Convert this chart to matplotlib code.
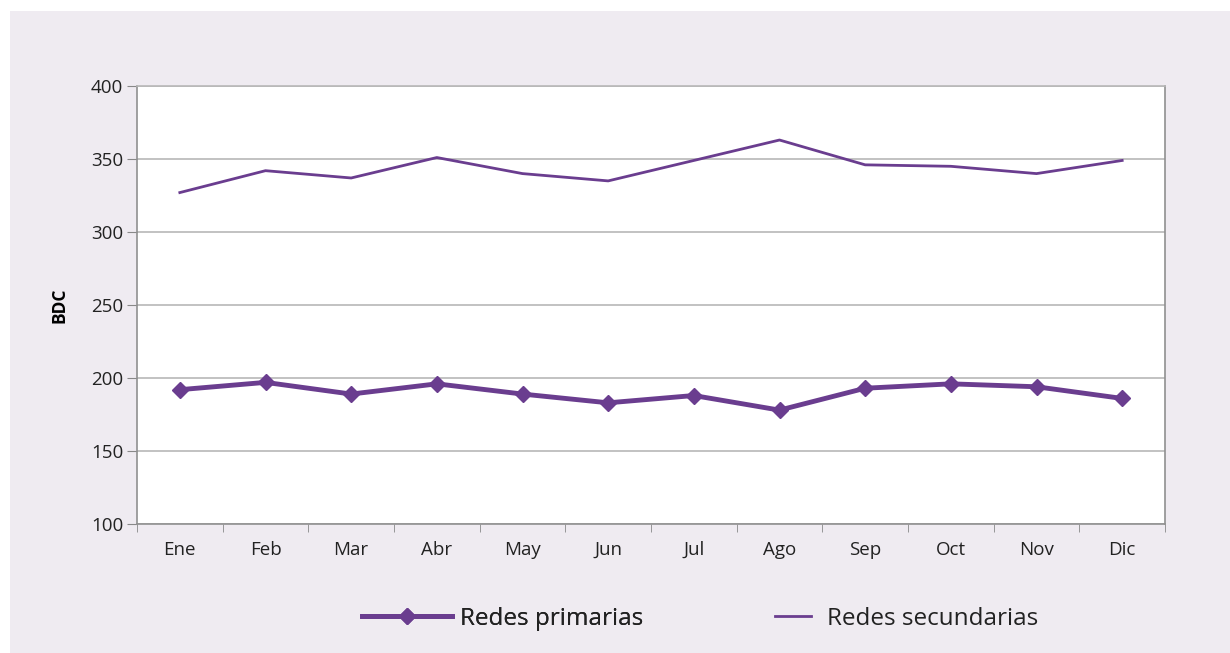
#!/usr/bin/env python3

import matplotlib
matplotlib.use("Agg")
import matplotlib.pyplot as plt
from matplotlib.patches import Rectangle


months = ["Ene", "Feb", "Mar", "Abr", "May", "Jun", "Jul", "Ago", "Sep", "Oct", "Nov", "Dic"]
redes_primarias = [192, 197, 189, 196, 189, 183, 188, 178, 193, 196, 194, 186]
redes_secundarias = [327, 342, 337, 351, 340, 335, 349, 363, 346, 345, 340, 349]
y_ticks = [100, 150, 200, 250, 300, 350, 400]


def main():
    plt.rcParams['font.family'] = ['Open Sans', 'DejaVu Sans']
    purple = '#6a3d8f'
    grid_col = '#b8b8b8'

    fig = plt.figure(figsize=(12.3, 6.53), dpi=100)
    fig.patch.set_facecolor('white')
    # light panel behind everything, white strip at top and left
    fig.patches.append(Rectangle((10 / 1230, 0), 1, 1 - 11 / 653,
                                 transform=fig.transFigure, facecolor='#efebf1',
                                 edgecolor='none', zorder=-10))

    ax = fig.add_axes([137 / 1230, 1 - 524 / 653, (1165 - 137) / 1230, (524 - 86) / 653])
    ax.set_facecolor('white')

    x = list(range(len(months)))
    l1, = ax.plot(x, redes_primarias, color=purple, lw=3.5, marker='D', ms=8.5,
                  label='Redes primarias', zorder=3)
    l2, = ax.plot(x, redes_secundarias, color=purple, lw=2,
                  label='Redes secundarias', zorder=3)

    ax.set_xlim(-0.5, len(months) - 0.5)
    ax.set_ylim(100, 400)
    ax.set_yticks(y_ticks)
    ax.yaxis.grid(True, color=grid_col, lw=1.2)
    ax.set_axisbelow(True)

    ax.set_xticks(x)
    ax.set_xticklabels(months, fontsize=13.5, color='#222222')
    ax.set_xticks([i - 0.5 for i in range(len(months) + 1)], minor=True)
    ax.tick_params(axis='x', which='major', length=0, pad=12)
    ax.tick_params(axis='x', which='minor', length=6, color='#888888', direction='out')
    ax.tick_params(axis='y', length=7, color='#888888', labelsize=13.5,
                   labelcolor='#222222', pad=3)

    for side in ['top', 'right', 'left', 'bottom']:
        ax.spines[side].set_color('#909090')
        ax.spines[side].set_linewidth(1.2)
    ax.spines['top'].set_color(grid_col)

    ax.set_ylabel('BDC', fontsize=12.5, fontweight='bold', labelpad=16)

    # two separate legends so the handles can have different lengths
    leg1 = fig.legend(handles=[l1], loc='center left',
                      bbox_to_anchor=(340 / 1230, 1 - 619 / 653), frameon=False,
                      fontsize=17.5, handlelength=3.7, handletextpad=0.35,
                      labelcolor='#222222')
    fig.add_artist(leg1)
    fig.legend(handles=[l2], loc='center left',
               bbox_to_anchor=(753 / 1230, 1 - 619 / 653), frameon=False,
               fontsize=17.5, handlelength=1.5, handletextpad=0.65,
               labelcolor='#222222')

    fig.savefig('out.png', dpi=100)


if __name__ == "__main__":
    main()
